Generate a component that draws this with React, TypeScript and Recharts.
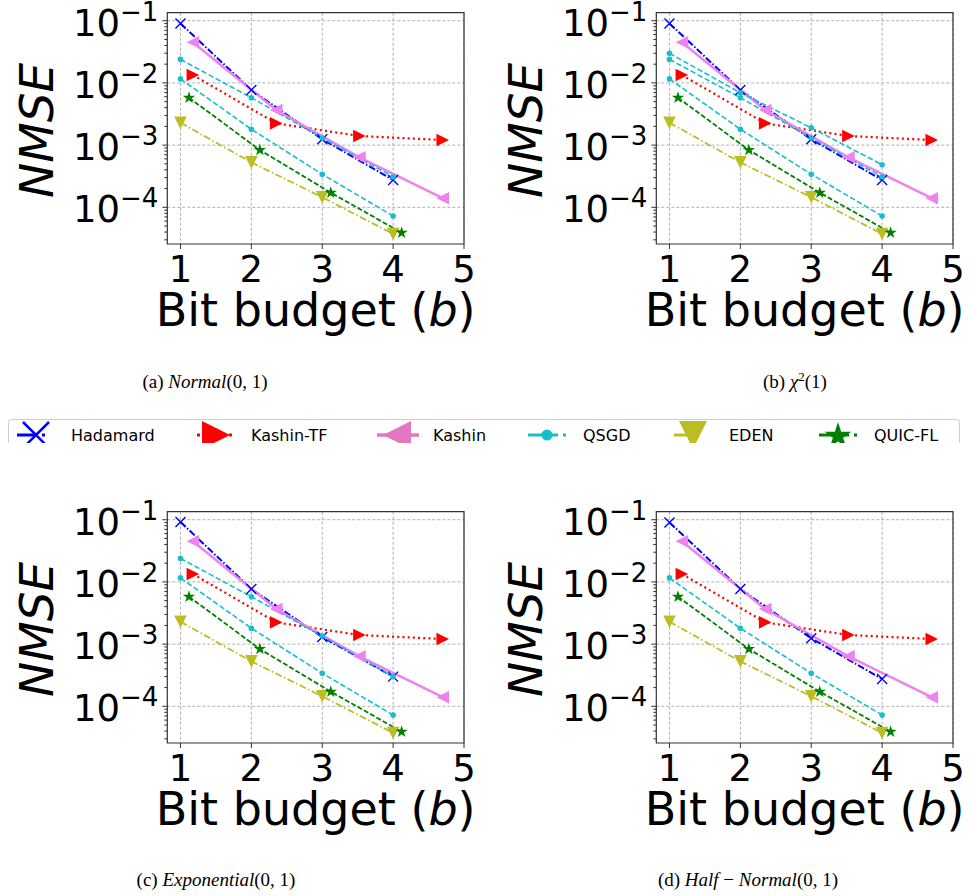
import React from "react";
import { CartesianGrid, Line, LineChart, ReferenceArea, XAxis, YAxis } from "recharts";

const SANS = "'DejaVu Sans', sans-serif";
const SERIF = "'Liberation Serif', 'DejaVu Serif', serif";

// axes
const X_MIN = 0.814;
const X_MAX = 5;
const Y_MIN = 2.57e-5;
const Y_MAX = 0.1346;
const X_TICKS = [1, 2, 3, 4, 5];
const Y_MAJOR = [1e-1, 1e-2, 1e-3, 1e-4];
const Y_EXP = ["\u22121", "\u22122", "\u22123", "\u22124"];
const Y_MINOR = [-5, -4, -3, -2].flatMap((e) =>
  [2, 3, 4, 5, 6, 7, 8, 9].map((m) => m * Math.pow(10, e))
).filter((v) => v > Y_MIN && v < Y_MAX);

// bit budgets per method (Kashin variants and QUIC-FL are drawn shifted)
const B_PLAIN = [1, 2, 3, 4];
const B_KASHIN = [1.175, 2.35, 3.525, 4.7];
const B_QUIC = [1.12, 2.12, 3.12, 4.12];

// NMSE values
const HADAMARD = [0.0905, 0.0077, 0.00124, 0.000275];
const HADAMARD_EXP = [0.092, 0.0077, 0.0013, 0.0003];
const KASHIN_TF = [0.0134, 0.00224, 0.0014, 0.00121];
const KASHIN = [0.045, 0.00367, 0.000637, 0.00014];
const QSGD_HI = [0.0299, 0.00695, 0.0019, 0.000484];
const QSGD_MID = [0.0239, 0.00578, 0.0013, 0.00031];
const QSGD_MID_EXP = [0.0239, 0.00578, 0.00135, 0.0003];
const QSGD_LO = [0.0116, 0.0018, 0.00034, 0.0000724];
const EDEN = [0.00229, 0.000528, 0.000145, 0.0000373];
const QUIC_FL = [0.00578, 0.000834, 0.000172, 0.0000391];

const C_HAD = "#0000ff";
const C_KTF = "#ff0000";
const C_KAS = "#ee82ee";
const C_QSGD = "#17becf";
const C_EDEN = "#bcbd22";
const C_QF = "#008000";

const pts = (xs: number[], ys: number[]) => xs.map((x, i) => ({ x, y: ys[i] }));

// ---- marker shapes ----
function xPath(cx: number, cy: number, r: number) {
  return `M${cx - r},${cy - r}L${cx + r},${cy + r}M${cx - r},${cy + r}L${cx + r},${cy - r}`;
}
function triPath(cx: number, cy: number, r: number, dir: "r" | "l" | "d") {
  if (dir === "r") return `M${cx + r},${cy}L${cx - r},${cy - r}L${cx - r},${cy + r}Z`;
  if (dir === "l") return `M${cx - r},${cy}L${cx + r},${cy - r}L${cx + r},${cy + r}Z`;
  return `M${cx},${cy + r}L${cx - r},${cy - r}L${cx + r},${cy - r}Z`;
}
function starPath(cx: number, cy: number, r: number) {
  let d = "";
  for (let k = 0; k < 10; k++) {
    const rad = k % 2 === 0 ? r : r * 0.382;
    const a = -Math.PI / 2 + (k * Math.PI) / 5;
    d += `${k === 0 ? "M" : "L"}${cx + rad * Math.cos(a)},${cy + rad * Math.sin(a)}`;
  }
  return d + "Z";
}

const dotX = (p: any) => (
  <path key={`x${p.index}`} d={xPath(p.cx, p.cy, 5)} stroke={C_HAD} strokeWidth={1.4} fill="none" />
);
const dotRight = (p: any) => <path key={`r${p.index}`} d={triPath(p.cx, p.cy, 6.3, "r")} fill={C_KTF} />;
const dotLeft = (p: any) => <path key={`l${p.index}`} d={triPath(p.cx, p.cy, 6.3, "l")} fill={C_KAS} />;
const dotDown = (p: any) => <path key={`d${p.index}`} d={triPath(p.cx, p.cy, 6.3, "d")} fill={C_EDEN} />;
const dotCircle = (p: any) => <circle key={`c${p.index}`} cx={p.cx} cy={p.cy} r={2.8} fill={C_QSGD} />;
const dotStar = (p: any) => <path key={`s${p.index}`} d={starPath(p.cx, p.cy, 6.5)} fill={C_QF} />;

function YTick(props: any) {
  const { x, y, payload } = props;
  const i = Y_MAJOR.indexOf(payload.value);
  const len = i >= 0 ? 5 : 3;
  return (
    <g>
      <line x1={x} x2={x - len} y1={y} y2={y} stroke="#333" strokeWidth={1} />
      {i >= 0 && (
        <text x={x - 9} y={y + 15} textAnchor="end" fontFamily={SANS} fontSize={37} fill="#000">
          <tspan>10</tspan>
          <tspan fontSize={26} dy={-15}>
            {Y_EXP[i]}
          </tspan>
        </text>
      )}
    </g>
  );
}

function XTick(props: any) {
  const { x, y, payload } = props;
  return (
    <g>
      <line x1={x} x2={x} y1={y} y2={y + 5} stroke="#333" strokeWidth={1} />
      <text x={x} y={y + 38} textAnchor="middle" fontFamily={SANS} fontSize={37} fill="#000">
        {payload.value}
      </text>
    </g>
  );
}

const CHART_W = 483;
const CHART_H = 345;
const Y_AXIS_W = 167.3;
const X_AXIS_H = 90;
const MARGIN = { top: 12.7, right: 19, left: 0, bottom: 11 };

function yTitle(p: any) {
  const cy = MARGIN.top + (CHART_H - MARGIN.top - MARGIN.bottom - X_AXIS_H) / 2 + 2;
  const bx = 53;
  return (
    <text
      x={bx}
      y={cy}
      transform={`rotate(-90 ${bx} ${cy})`}
      textAnchor="middle"
      fontFamily={SANS}
      fontStyle="italic"
      fontSize={47}
      fill="#000"
    >
      NMSE
    </text>
  );
}

function xTitle(p: any) {
  const vb = p && p.viewBox ? p.viewBox : null;
  const cx = vb && vb.width ? vb.x + vb.width / 2 : Y_AXIS_W + (CHART_W - Y_AXIS_W - MARGIN.right) / 2;
  const by = CHART_H - MARGIN.bottom - X_AXIS_H + 82;
  return (
    <text x={cx} y={by} textAnchor="middle" fontFamily={SANS} fontSize={46} fill="#000">
      <tspan>Bit budget (</tspan>
      <tspan fontStyle="italic">b</tspan>
      <tspan>)</tspan>
    </text>
  );
}

interface PanelProps {
  left: number;
  top: number;
  hadamard: number[];
  qsgd: number[][];
}

function Panel({ left, top, hadamard, qsgd }: PanelProps) {
  return (
    <div style={{ position: "absolute", left, top }}>
      <LineChart width={CHART_W} height={CHART_H} margin={MARGIN}>
        <CartesianGrid
          stroke="#b0b0b0"
          strokeDasharray="3 2"
          horizontalValues={Y_MAJOR}
          verticalValues={X_TICKS}
        />
        <XAxis
          dataKey="x"
          type="number"
          domain={[X_MIN, X_MAX]}
          allowDataOverflow
          ticks={X_TICKS}
          interval={0}
          tickSize={0}
          tickMargin={0}
          tickLine={false}
          axisLine={false}
          tick={<XTick />}
          height={X_AXIS_H}
          label={{ content: xTitle }}
        />
        <YAxis
          type="number"
          scale="log"
          domain={[Y_MIN, Y_MAX]}
          allowDataOverflow
          ticks={[...Y_MAJOR, ...Y_MINOR]}
          interval={0}
          tickSize={0}
          tickMargin={0}
          tickLine={false}
          axisLine={false}
          tick={<YTick />}
          width={Y_AXIS_W}
          label={{ content: yTitle }}
        />
        <Line
          data={pts(B_PLAIN, hadamard)}
          dataKey="y"
          stroke={C_HAD}
          strokeWidth={2}
          strokeDasharray="7 2 1.5 2"
          dot={dotX}
          activeDot={false}
          isAnimationActive={false}
        />
        <Line
          data={pts(B_KASHIN, KASHIN_TF)}
          dataKey="y"
          stroke={C_KTF}
          strokeWidth={2.2}
          strokeDasharray="2 3.2"
          dot={dotRight}
          activeDot={false}
          isAnimationActive={false}
        />
        <Line
          data={pts(B_KASHIN, KASHIN)}
          dataKey="y"
          stroke={C_KAS}
          strokeWidth={2.5}
          dot={dotLeft}
          activeDot={false}
          isAnimationActive={false}
        />
        {qsgd.map((ys, i) => (
          <Line
            key={`q${i}`}
            data={pts(B_PLAIN, ys)}
            dataKey="y"
            stroke={C_QSGD}
            strokeWidth={1.6}
            strokeDasharray="5.5 2.5"
            dot={dotCircle}
            activeDot={false}
            isAnimationActive={false}
          />
        ))}
        <Line
          data={pts(B_PLAIN, EDEN)}
          dataKey="y"
          stroke={C_EDEN}
          strokeWidth={1.8}
          strokeDasharray="7 2.5 1.5 2.5"
          dot={dotDown}
          activeDot={false}
          isAnimationActive={false}
        />
        <Line
          data={pts(B_QUIC, QUIC_FL)}
          dataKey="y"
          stroke={C_QF}
          strokeWidth={1.8}
          strokeDasharray="5 2.2"
          dot={dotStar}
          activeDot={false}
          isAnimationActive={false}
        />
        <ReferenceArea
          x1={X_MIN}
          x2={X_MAX}
          y1={Y_MIN}
          y2={Y_MAX}
          fill="none"
          stroke="#333"
          strokeWidth={1.2}
          ifOverflow="visible"
        />
      </LineChart>
    </div>
  );
}

// ---- shared legend ----
const LEGEND_NAMES = ["Hadamard", "Kashin-TF", "Kashin", "QSGD", "EDEN", "QUIC-FL"];
const LEGEND_ICON_X = [17, 197, 377, 528, 674, 819];
const LEGEND_TEXT_X = [71, 251, 433, 583, 729, 874];

function LegendIcon({ i, x }: { i: number; x: number }) {
  const cy = 16;
  const cx = x + 19;
  const x1 = x;
  const x2 = x + 38;
  switch (i) {
    case 0:
      return (
        <g>
          <line x1={x1} x2={x2} y1={cy} y2={cy} stroke={C_HAD} strokeWidth={3} strokeDasharray="19 6 3 20" />
          <path d={xPath(cx, cy, 13)} stroke={C_HAD} strokeWidth={2.5} fill="none" />
        </g>
      );
    case 1:
      return (
        <g>
          <line x1={x1} x2={x2} y1={cy} y2={cy} stroke={C_KTF} strokeWidth={3} strokeDasharray="3 5" />
          <path d={triPath(cx, cy, 14, "r")} fill={C_KTF} />
        </g>
      );
    case 2:
      return (
        <g>
          <line x1={x1} x2={x2 + 4} y1={cy} y2={cy} stroke="#e377c2" strokeWidth={3.5} />
          <path d={triPath(cx + 1, cy, 14, "l")} fill="#e377c2" />
        </g>
      );
    case 3:
      return (
        <g>
          <line x1={x1} x2={x2} y1={cy} y2={cy} stroke={C_QSGD} strokeWidth={3} strokeDasharray="30 5 3" />
          <circle cx={cx} cy={cy} r={5.5} fill={C_QSGD} />
        </g>
      );
    case 4:
      return (
        <g>
          <line x1={x1} x2={x2} y1={cy} y2={cy} stroke={C_EDEN} strokeWidth={3} strokeDasharray="14 5 2 20" />
          <path d={triPath(cx, cy, 14, "d")} fill={C_EDEN} />
        </g>
      );
    default:
      return (
        <g>
          <line x1={x1} x2={x2} y1={cy} y2={cy} stroke={C_QF} strokeWidth={3} strokeDasharray="30 5 3" />
          <path d={starPath(cx, cy + 1, 14)} fill={C_QF} />
        </g>
      );
  }
}

function SharedLegend() {
  return (
    <svg
      width={972}
      height={40}
      style={{ position: "absolute", left: 0, top: 403 }}
    >
      <g transform="translate(0,16)">
        <rect x={8.5} y={0.5} width={951} height={31} rx={3} fill="#fff" stroke="#cccccc" strokeWidth={1} />
        {LEGEND_NAMES.map((name, i) => (
          <g key={name}>
            <LegendIcon i={i} x={LEGEND_ICON_X[i]} />
            <text x={LEGEND_TEXT_X[i]} y={21.5} fontFamily={SANS} fontSize={16} fill="#000">
              {name}
            </text>
          </g>
        ))}
      </g>
    </svg>
  );
}

function Captions() {
  const fs = 19;
  return (
    <svg width={972} height={896} style={{ position: "absolute", left: 0, top: 0, pointerEvents: "none" }}>
      <text x={205} y={388} textAnchor="middle" fontFamily={SERIF} fontSize={fs} fill="#000">
        <tspan>(a) </tspan>
        <tspan fontStyle="italic">Normal</tspan>
        <tspan>(0, 1)</tspan>
      </text>
      <text x={795} y={388} textAnchor="middle" fontFamily={SERIF} fontSize={fs} fill="#000">
        <tspan>(b) </tspan>
        <tspan fontStyle="italic">{"\u03c7"}</tspan>
        <tspan fontSize={13} dy={-7}>2</tspan>
        <tspan dy={7}>(1)</tspan>
      </text>
      <text x={216} y={886} textAnchor="middle" fontFamily={SERIF} fontSize={fs} fill="#000">
        <tspan>(c) </tspan>
        <tspan fontStyle="italic">Exponential</tspan>
        <tspan>(0, 1)</tspan>
      </text>
      <text x={748} y={886} textAnchor="middle" fontFamily={SERIF} fontSize={fs} fill="#000">
        <tspan>(d) </tspan>
        <tspan fontStyle="italic">Half</tspan>
        <tspan>{" \u2212 "}</tspan>
        <tspan fontStyle="italic">Normal</tspan>
        <tspan>(0, 1)</tspan>
      </text>
    </svg>
  );
}

export default function App() {
  return (
    <div
      style={{
        position: "absolute",
        left: 0,
        top: 0,
        width: 972,
        height: 896,
        background: "#fff",
        overflow: "hidden",
      }}
    >
      <Panel left={0} top={0} hadamard={HADAMARD} qsgd={[QSGD_MID, QSGD_LO]} />
      <Panel left={489.4} top={0} hadamard={HADAMARD} qsgd={[QSGD_HI, QSGD_MID, QSGD_LO]} />
      <Panel left={0} top={499} hadamard={HADAMARD_EXP} qsgd={[QSGD_MID_EXP, QSGD_LO]} />
      <Panel left={489.4} top={499} hadamard={HADAMARD} qsgd={[QSGD_LO]} />
      <SharedLegend />
      <Captions />
    </div>
  );
}
